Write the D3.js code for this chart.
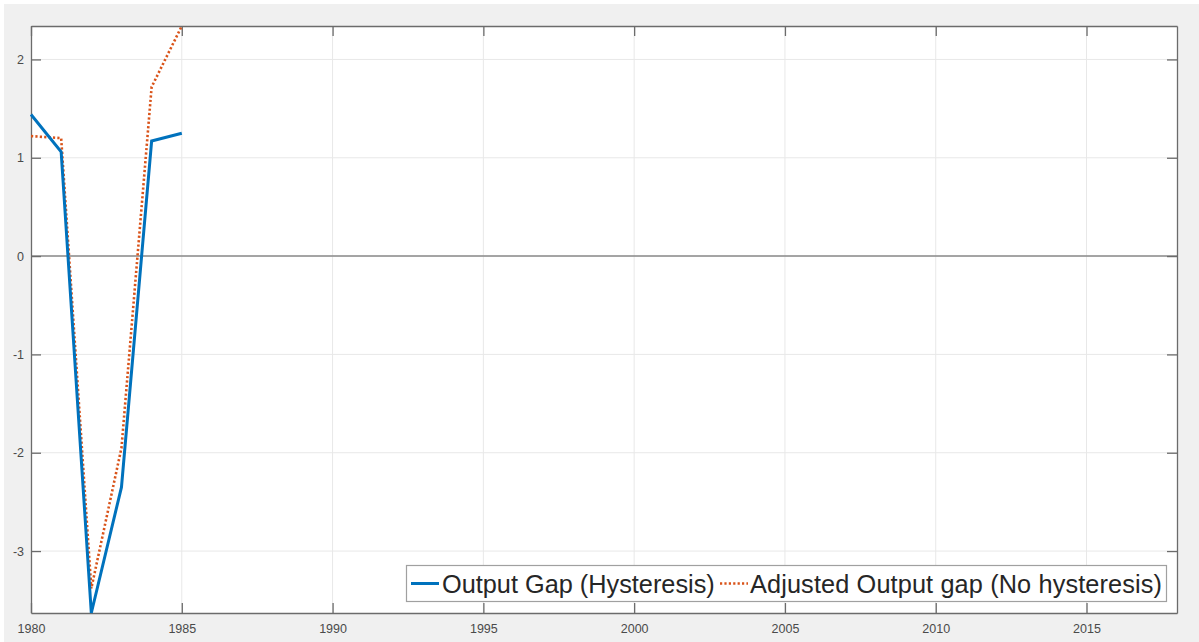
<!DOCTYPE html>
<html>
<head>
<meta charset="utf-8">
<script src="https://cdn.jsdelivr.net/npm/d3@7"></script>
<style>
  body { margin: 0; background: #fff; }
  svg { display: block; font-family: "Liberation Sans", Arial, sans-serif; }
</style>
</head>
<body>
<svg id="chart" width="1199" height="642"></svg>
<script>
// data
const years = [1980, 1981, 1982, 1983, 1984, 1985];
const outputGap = [1.44, 1.06, -3.63, -2.35, 1.17, 1.25];
const adjustedGap = [1.22, 1.2, -3.38, -1.95, 1.72, 2.34];
const xTicks = [1980, 1985, 1990, 1995, 2000, 2005, 2010, 2015];
const yTicks = [-3, -2, -1, 0, 1, 2];
const seriesNames = ['Output Gap (Hysteresis)', 'Adjusted Output gap (No hysteresis)'];

const svg = d3.select('#chart');
const plot = {left: 31, top: 26, right: 1177, bottom: 613};

// figure background
svg.append('rect').attr('x', 4).attr('y', 4).attr('width', 1195).attr('height', 638).attr('fill', '#f0f0f0');
svg.append('rect')
    .attr('x', plot.left).attr('y', plot.top)
    .attr('width', plot.right - plot.left).attr('height', plot.bottom - plot.top)
    .attr('fill', '#fff');

const x = d3.scaleLinear().domain([1980, 2018]).range([plot.left, plot.right]);
const y = d3.scaleLinear().domain([-3.63, 2.34]).range([plot.bottom, plot.top]);

// grid
let grid = svg.append('g').attr('stroke', '#e8e8e8').attr('stroke-width', 1);
grid.selectAll('.gx').data(xTicks.slice(1)).join('line')
    .attr('x1', d => x(d)).attr('x2', d => x(d))
    .attr('y1', plot.top).attr('y2', plot.bottom);
grid.selectAll('.gy').data(yTicks).join('line')
    .attr('x1', plot.left).attr('x2', plot.right)
    .attr('y1', d => y(d)).attr('y2', d => y(d));

// zero line
svg.append('line')
    .attr('x1', plot.left).attr('x2', plot.right)
    .attr('y1', y(0)).attr('y2', y(0))
    .attr('stroke', '#8a8a8a').attr('stroke-width', 1.5);

// axes, MATLAB style ticks pointing inward
const tickLen = 10;
let axBottom = svg.append('g').attr('transform', `translate(0,${plot.bottom})`)
    .call(d3.axisBottom(x).tickValues(xTicks).tickFormat(d => String(d)).tickSizeInner(-tickLen).tickSizeOuter(0).tickPadding(11));
let axTop = svg.append('g').attr('transform', `translate(0,${plot.top})`)
    .call(d3.axisTop(x).tickValues(xTicks).tickFormat('').tickSizeInner(-tickLen).tickSizeOuter(0));
let axLeft = svg.append('g').attr('transform', `translate(${plot.left},0)`)
    .call(d3.axisLeft(y).tickValues(yTicks).tickFormat(d => String(d)).tickSizeInner(-tickLen).tickSizeOuter(0).tickPadding(20));
let axRight = svg.append('g').attr('transform', `translate(${plot.right},0)`)
    .call(d3.axisRight(y).tickValues(yTicks).tickFormat('').tickSizeInner(-tickLen).tickSizeOuter(0));

[axBottom, axTop, axLeft, axRight].forEach(a => {
    a.select('.domain').attr('stroke', '#6b6b6b').attr('stroke-width', 1.3);
    a.selectAll('.tick line').attr('stroke', '#6b6b6b').attr('stroke-width', 1.3);
    a.selectAll('.tick text').attr('fill', '#4a4a4a').attr('font-size', 12.5)
        .attr('font-family', '"Liberation Sans", Arial, sans-serif');
});
axLeft.selectAll('.tick text').attr('x', -7);

// lines
const line = vals => d3.line().x((d, i) => x(years[i])).y(d => y(d))(vals);

svg.append('path').attr('d', line(adjustedGap))
    .attr('fill', 'none').attr('stroke', '#D95319').attr('stroke-width', 2.6)
    .attr('stroke-dasharray', '2.2 2.2');
svg.append('path').attr('d', line(outputGap))
    .attr('fill', 'none').attr('stroke', '#0072BD').attr('stroke-width', 3);

// legend
let legend = svg.append('g');
legend.append('rect').attr('x', 406.5).attr('y', 565.5).attr('width', 760).attr('height', 36)
    .attr('fill', '#fff').attr('stroke', '#a0a0a0').attr('stroke-width', 1.2);
legend.append('line').attr('x1', 411).attr('x2', 439).attr('y1', 583.5).attr('y2', 583.5)
    .attr('stroke', '#0072BD').attr('stroke-width', 3);
legend.append('text').attr('x', 442).attr('y', 592.5).attr('font-size', 25.3).attr('fill', '#262626')
    .text(seriesNames[0]);
legend.append('line').attr('x1', 720).attr('x2', 748).attr('y1', 583.5).attr('y2', 583.5)
    .attr('stroke', '#D95319').attr('stroke-width', 2.6).attr('stroke-dasharray', '2.2 2.2');
legend.append('text').attr('x', 750).attr('y', 592.5).attr('font-size', 25.3).attr('fill', '#262626')
    .attr('textLength', 412).attr('lengthAdjust', 'spacing')
    .text(seriesNames[1]);
</script>
</body>
</html>
